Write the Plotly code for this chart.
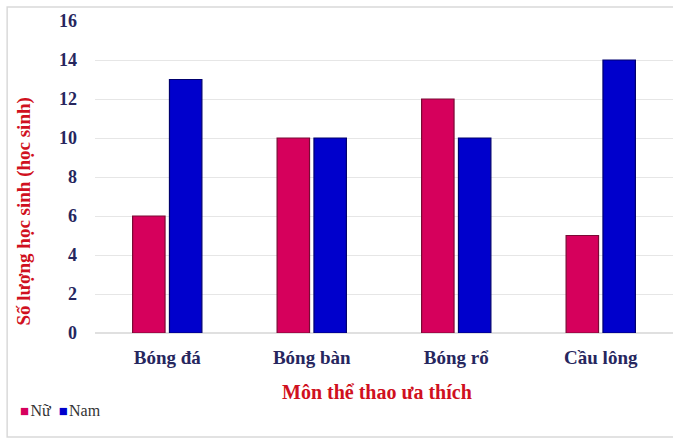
import plotly.graph_objects as go

categories = ["Bóng đá", "Bóng bàn", "Bóng rổ", "Cầu lông"]
nu_values = [6, 10, 12, 5]
nam_values = [13, 10, 10, 14]
y_ticks = [0, 2, 4, 6, 8, 10, 12, 14, 16]
series_names = ["Nữ", "Nam"]
series_colors = ["#d6005c", "#0000cc"]
edge_colors = ["#7a0a35", "#00006e"]

SERIF = "Liberation Serif, Times New Roman, serif"
NAVY = "#26265e"
RED = "#d01020"

fig = go.Figure()
for name, vals, col, edge in zip(series_names, [nu_values, nam_values], series_colors, edge_colors):
    fig.add_trace(go.Bar(
        name=name, x=categories, y=vals,
        marker=dict(color=col, line=dict(color=edge, width=1.2)),
        showlegend=False,
    ))

# manual compact legend (matches original's tight layout)
legend_text = "&nbsp;&nbsp;".join(
    f"<span style='color:{col};font-size:15px'>■</span>&#8202;{name}"
    for name, col in zip(series_names, series_colors)
)

fig.update_layout(
    width=673, height=441,
    margin=dict(l=95, r=0, t=21, b=108, autoexpand=False),
    paper_bgcolor="white", plot_bgcolor="white",
    barmode="group", bargap=0.49, bargroupgap=0.12,
    showlegend=False,
    xaxis=dict(
        showgrid=False, showline=False, zeroline=False,
        tickfont=dict(family=SERIF, size=19, color=NAVY, weight="bold"),
        ticks="", ticklabelstandoff=11,
    ),
    yaxis=dict(
        range=[0, 16], tickvals=y_ticks,
        showgrid=True, gridcolor="#e6e6e6", gridwidth=1,
        zeroline=True, zerolinecolor="#e0e0e0",
        showline=False,
        tickfont=dict(family=SERIF, size=18, color=NAVY, weight="bold"),
        ticks="", ticklabelstandoff=17,
    ),
    shapes=[
        dict(type="rect", xref="paper", yref="paper",
             x0=-0.152, x1=1.02, y0=-0.333, y1=1.045,
             line=dict(color="#d9d9d9", width=1.5), fillcolor="rgba(0,0,0,0)", layer="below"),
    ],
    annotations=[
        dict(text="<b>Số lượng học sinh (học sinh)</b>", xref="paper", yref="paper",
             x=-0.122, y=0.391, textangle=-90, showarrow=False,
             xanchor="center", yanchor="middle",
             font=dict(family=SERIF, size=19, color=RED)),
        dict(text="<b>Môn thể thao ưa thích</b>", xref="paper", yref="paper",
             x=0.488, y=-0.189, showarrow=False,
             xanchor="center", yanchor="middle",
             font=dict(family=SERIF, size=20, color=RED)),
        dict(text=legend_text, xref="paper", yref="paper",
             x=-0.134, y=-0.247, showarrow=False, xanchor="left", yanchor="middle",
             font=dict(family=SERIF, size=16, color="#333333")),
    ],
)

fig.write_html("out.html", config={"displayModeBar": False},
               post_script="document.body.style.margin='0';document.body.style.overflow='hidden';")
